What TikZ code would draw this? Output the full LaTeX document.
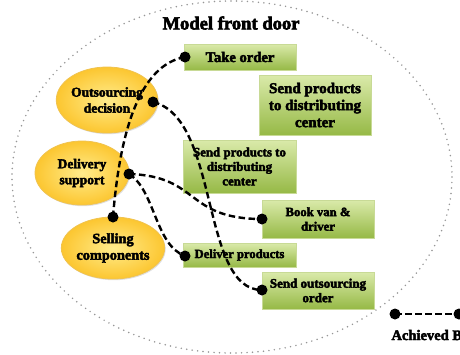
\documentclass[tikz,border=0pt]{standalone}
\usepackage{fontspec}
\setmainfont{Liberation Serif}[BoldFeatures={FakeBold=3}]
\usetikzlibrary{shadows,shapes.geometric}
\definecolor{boxtop}{RGB}{218,234,170}
\definecolor{boxbot}{RGB}{150,185,70}
\definecolor{boxedge}{RGB}{200,218,150}
\definecolor{ellin}{RGB}{255,236,140}
\definecolor{ellout}{RGB}{252,198,48}
\definecolor{elledge}{RGB}{240,195,80}
\definecolor{dotgray}{RGB}{150,150,150}
\begin{document}
\begin{tikzpicture}[x=1pt,y=-1pt,
  greenbox/.style={rectangle, draw=boxedge, line width=0.8pt, top color=boxtop, bottom color=boxbot,
     drop shadow={opacity=0.35, shadow xshift=1pt, shadow yshift=-1.2pt},
     align=center, inner sep=1pt, font=\fontsize{15}{17}\selectfont\bfseries},
  yellowell/.style={ellipse, draw=elledge, line width=0.8pt, inner color=ellin, outer color=ellout,
     drop shadow={opacity=0.25, shadow xshift=1pt, shadow yshift=-1.2pt},
     align=center, inner sep=0pt, font=\fontsize{13.5}{16}\selectfont\bfseries},
  blackdot/.style={circle, fill=black, inner sep=0pt, minimum size=11pt},
  link/.style={draw=black, line width=2.4pt, dash pattern=on 6.5pt off 3.5pt},
]
\useasboundingbox (0,0) rectangle (460,354);
% outer dotted boundary
\draw[dotgray, line width=1.7pt, line cap=round, dash pattern=on 0pt off 5.5pt] (232,177) ellipse [x radius=220, y radius=176];
\node[font=\fontsize{18.6}{20}\selectfont\bfseries] (title) at (231,23) {Model front door};

% ellipses
\node[yellowell, minimum width=94pt, minimum height=66pt] (od) at (107,100) {Outsourcing\\decision};
\node[yellowell, minimum width=94pt, minimum height=64pt] (ds) at (82,173) {Delivery\\support};
\node[yellowell, minimum width=93pt, minimum height=62pt, font=\fontsize{14.3}{16.5}\selectfont\bfseries] (sc) at (113,248) {Selling\\components};

% boxes
\node[greenbox, minimum width=112pt, minimum height=26pt, font=\fontsize{14.6}{16}\selectfont\bfseries] (take) at (240,57) {Take order};
\node[greenbox, minimum width=112pt, minimum height=60pt] (sendr) at (315,105) {Send products\\to distributing\\center};
\node[greenbox, minimum width=113pt, minimum height=53pt, font=\fontsize{12.9}{14.5}\selectfont\bfseries] (sendc) at (239.5,166.5) {Send products to\\distributing\\center};
\node[greenbox, minimum width=112pt, minimum height=38pt, font=\fontsize{12.7}{14.5}\selectfont\bfseries] (book) at (318,219) {Book van \&\\driver};
\node[greenbox, minimum width=113pt, minimum height=24pt, font=\fontsize{12.6}{14}\selectfont\bfseries] (deliver) at (239.5,255) {Deliver products};
\node[greenbox, minimum width=112pt, minimum height=37pt, font=\fontsize{13}{14.5}\selectfont\bfseries] (sendo) at (318,290.5) {Send outsourcing\\order};

% dots
\node[blackdot] (dTake) at (185,57) {};
\node[blackdot] (dOD) at (153,102) {};
\node[blackdot] (dDS) at (129,174) {};
\node[blackdot] (dSC) at (113,217) {};
\node[blackdot] (dBook) at (262,219) {};
\node[blackdot] (dDel) at (185,256) {};
\node[blackdot] (dSO) at (262,290) {};
\node[blackdot] (dA1) at (395,314) {};
\node[blackdot] (dA2) at (459,314) {};

% connectors
\draw[link] (dSC.center) .. controls +(7,-87) and +(-45,8) .. (dTake.center);
\draw[link] (dOD.center) .. controls +(67,16) and +(-62,0) .. (dSO.center);
\draw[link] (dDS.center) .. controls +(71,2) and +(-77,0) .. (dBook.center);
\draw[link] (dDS.center) .. controls +(26,16) and +(-30,-11) .. (dDel.center);
\draw[link] (dA1.center) -- (dA2.center);

\node[anchor=base west, font=\fontsize{14.5}{16}\selectfont\bfseries] (ach) at (388,340) {Achieved By};
\end{tikzpicture}
\end{document}
